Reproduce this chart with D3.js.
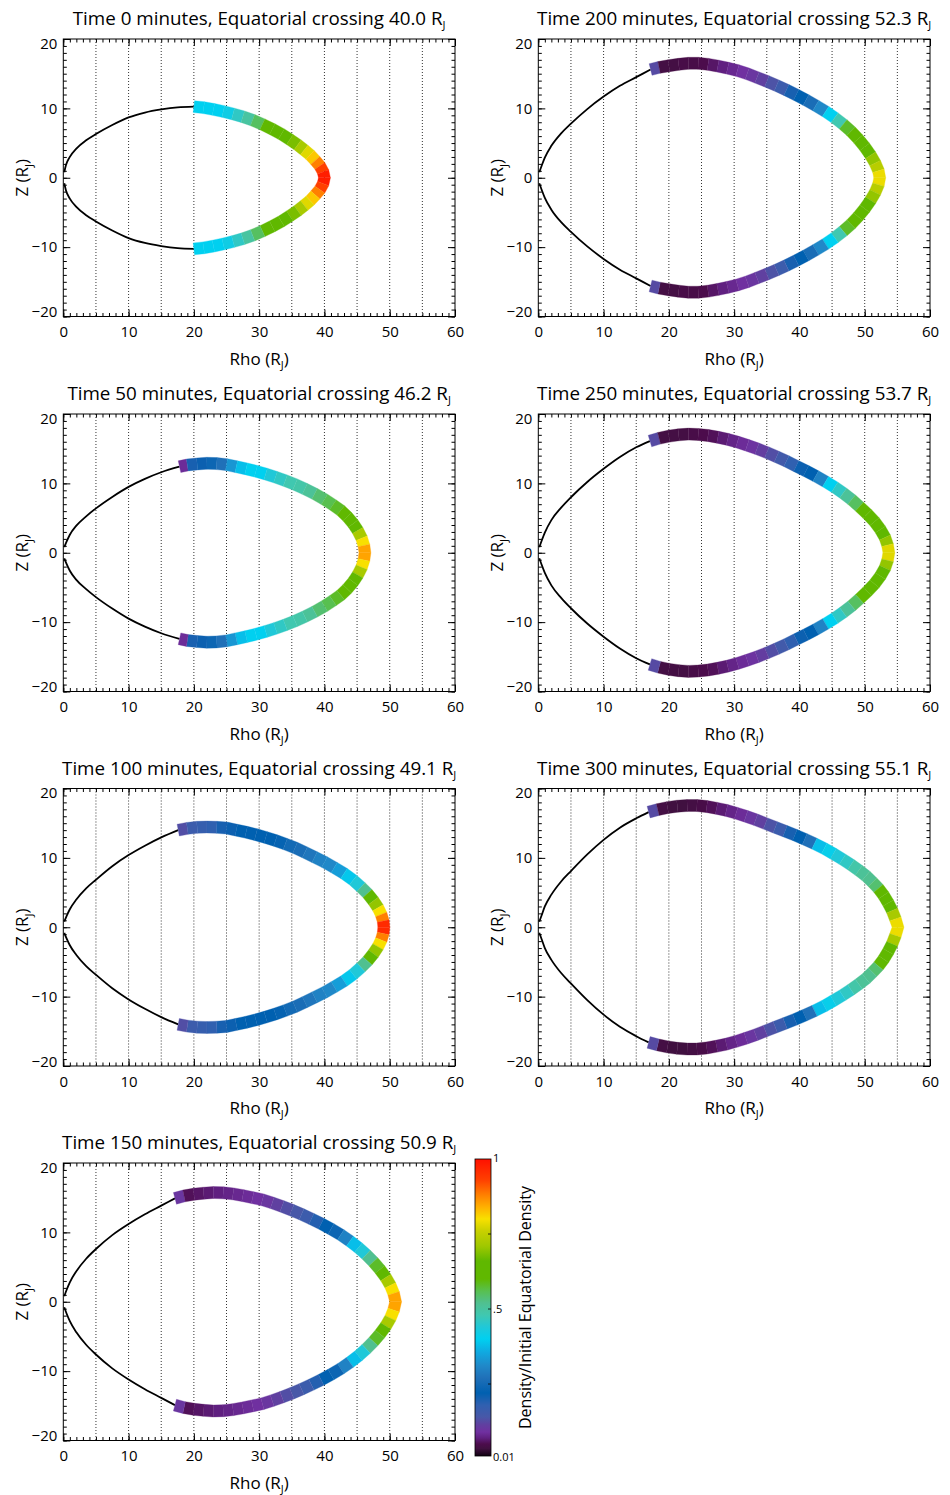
<!DOCTYPE html>
<html>
<head>
<meta charset="utf-8">
<script src="https://cdn.jsdelivr.net/npm/d3@7"></script>
<style>
  body { margin: 0; background: #ffffff; }
  svg text { font-family: "Open Sans", "Noto Sans", sans-serif; fill: #000; }
</style>
</head>
<body>
<svg id="chart" width="950" height="1495"></svg>
<script>
// ---------------- DATA ----------------
const times = [0, 50, 100, 150, 200, 250, 300];
const crossings = ["40.0", "46.2", "49.1", "50.9", "52.3", "53.7", "55.1"];
const xTickValues = [0, 10, 20, 30, 40, 50, 60];
const yTickValues = [-20, -10, 0, 10, 20];
const gridValues = [5, 10, 15, 20, 25, 30, 35, 40, 45, 50, 55];
const cbTickValues = [0.01, 0.5, 1];
const cbTickLabels = ["0.01", ".5", "1"];
const cbMarkValues = [0.25, 0.5, 0.75];

// colour table (density -> colour)
const cmapValues = [0.01, 0.035, 0.05, 0.07, 0.09, 0.115, 0.14, 0.18, 0.22, 0.27, 0.31, 0.355, 0.40, 0.44, 0.48, 0.52, 0.56, 0.60, 0.66, 0.71, 0.76, 0.80, 0.84, 0.88, 0.93, 1.0];
const cmapColors = ["#100010", "#401040", "#4c0c4c", "#602080", "#7030a0", "#6040a0", "#4858a8", "#3060b0", "#0060b0", "#2070b8", "#2088c8", "#10a8e0", "#00d0f0", "#20c8d8", "#40c8b0", "#50c090", "#58c050", "#60b800", "#60b800", "#a0c800", "#c8d000", "#f8e000", "#ffb000", "#ff8000", "#ff4000", "#ff1000"];

// inner (black) field line, upper half: [rho, z]
const inner_t0   = [[0.15,0.8],[0.4,1.8],[1.0,3.0],[2.0,4.2],[3.5,5.4],[5.0,6.3],[7.5,7.6],[10.0,8.7],[12.5,9.4],[15.0,9.85],[17.5,10.15],[20.0,10.25]];
const inner_t50  = [[0.15,0.8],[0.5,1.6],[1.0,2.6],[2.0,3.9],[3.5,5.25],[5.0,6.4],[7.5,8.05],[10.0,9.5],[12.5,10.65],[15.0,11.6],[17.8,12.4]];
const inner_t100 = [[0.15,0.8],[0.5,1.6],[1.0,2.6],[2.0,4.0],[3.5,5.6],[5.0,6.85],[7.5,8.8],[10.0,10.4],[12.5,11.75],[15.0,12.95],[17.6,14.0]];
const inner_t150 = [[0.15,0.8],[0.5,1.7],[1.0,2.8],[2.0,4.4],[3.5,6.2],[5.0,7.6],[7.5,9.6],[10.0,11.2],[12.5,12.6],[15.0,13.85],[17.1,14.9]];
const inner_t200 = [[0.15,0.8],[0.5,1.7],[1.0,2.9],[2.0,4.6],[3.5,6.4],[5.0,7.8],[7.5,9.9],[10.0,11.7],[12.5,13.25],[15.0,14.5],[17.2,15.6]];
const inner_t250 = [[0.15,0.8],[0.5,1.7],[1.0,2.9],[2.0,4.7],[3.5,6.5],[5.0,8.0],[7.5,10.2],[10.0,12.1],[12.5,13.8],[15.0,15.2],[17.1,16.1]];
const inner_t300 = [[0.15,0.8],[0.5,1.7],[1.0,3.0],[2.0,4.7],[3.5,6.6],[5.0,8.1],[7.5,10.5],[10.0,12.6],[12.5,14.35],[15.0,15.7],[16.9,16.6]];

// outer (coloured) part of the field line, upper half, from its start to the equator: [rho, z]
const band_t0   = [[20.0,10.25],[21.5,10.1],[23.0,9.85],[24.5,9.55],[26.0,9.2],[27.5,8.8],[29.0,8.3],[30.5,7.7],[32.0,7.0],[33.4,6.3],[34.7,5.5],[35.9,4.75],[36.9,4.0],[37.8,3.3],[38.6,2.5],[39.3,1.7],[39.8,0.85],[40.0,0]];
const band_t50  = [[17.8,12.4],[19.0,12.65],[20.5,12.8],[22.0,12.9],[23.5,12.85],[25.0,12.7],[26.5,12.4],[28.0,12.1],[29.5,11.75],[31.0,11.35],[32.5,10.9],[34.0,10.4],[35.5,9.85],[37.0,9.2],[38.5,8.5],[40.0,7.7],[41.3,6.9],[42.5,6.1],[43.5,5.2],[44.4,4.2],[45.1,3.2],[45.7,2.1],[46.05,1.05],[46.2,0]];
const band_t100 = [[17.6,14.0],[19.0,14.25],[20.5,14.4],[22.0,14.45],[23.5,14.4],[25.0,14.3],[26.5,14.0],[28.0,13.7],[29.5,13.35],[31.0,12.95],[32.5,12.5],[34.0,12.0],[35.5,11.45],[37.0,10.8],[38.5,10.1],[40.0,9.4],[41.5,8.6],[43.0,7.75],[44.4,6.8],[45.6,5.8],[46.6,4.85],[47.5,3.8],[48.2,2.8],[48.7,1.85],[49.0,0.9],[49.1,0]];
const band_t150 = [[17.1,14.9],[18.5,15.25],[20.0,15.5],[21.5,15.65],[23.0,15.75],[24.5,15.7],[26.0,15.55],[27.5,15.3],[29.0,15.0],[30.5,14.7],[32.0,14.25],[33.5,13.75],[35.0,13.2],[36.5,12.6],[38.0,11.95],[39.5,11.25],[41.0,10.5],[42.5,9.65],[43.9,8.75],[45.2,7.8],[46.4,6.8],[47.5,5.75],[48.5,4.65],[49.4,3.5],[50.1,2.35],[50.6,1.2],[50.9,0]];
const band_t200 = [[17.2,15.6],[18.5,15.9],[20.0,16.15],[21.5,16.35],[23.0,16.5],[24.5,16.5],[26.0,16.35],[27.5,16.1],[29.0,15.8],[30.5,15.45],[32.0,15.0],[33.5,14.45],[35.0,13.9],[36.5,13.3],[38.0,12.65],[39.5,11.95],[41.0,11.2],[42.5,10.4],[44.0,9.55],[45.4,8.65],[46.7,7.7],[47.9,6.7],[49.0,5.6],[50.0,4.45],[50.9,3.25],[51.6,2.1],[52.1,1.0],[52.3,0]];
const band_t250 = [[17.1,16.1],[18.5,16.5],[20.0,16.8],[21.5,17.0],[23.0,17.1],[24.5,17.05],[26.0,16.9],[27.5,16.65],[29.0,16.35],[30.5,15.95],[32.0,15.5],[33.5,15.0],[35.0,14.45],[36.5,13.85],[38.0,13.2],[39.5,12.5],[41.0,11.8],[42.5,11.05],[44.0,10.25],[45.4,9.45],[46.7,8.6],[48.0,7.65],[49.2,6.65],[50.4,5.6],[51.5,4.5],[52.4,3.35],[53.1,2.2],[53.5,1.1],[53.7,0]];
const band_t300 = [[16.9,16.6],[18.3,16.95],[19.8,17.25],[21.3,17.45],[22.8,17.55],[24.3,17.55],[25.8,17.4],[27.3,17.15],[28.8,16.85],[30.3,16.45],[31.8,16.0],[33.3,15.5],[34.8,14.95],[36.3,14.4],[37.8,13.85],[39.3,13.3],[40.8,12.7],[42.3,12.05],[43.8,11.35],[45.2,10.6],[46.6,9.8],[47.9,9.0],[49.1,8.2],[50.2,7.4],[51.2,6.5],[52.1,5.6],[52.9,4.6],[53.6,3.5],[54.2,2.4],[54.7,1.2],[55.1,0]];

// density / initial equatorial density for each segment of the coloured part (start -> equator)
const dens_t0   = [0.40,0.40,0.40,0.42,0.46,0.50,0.55,0.62,0.63,0.64,0.68,0.72,0.78,0.82,0.88,0.93,0.98];
const dens_t50  = [0.085,0.20,0.21,0.24,0.27,0.33,0.38,0.40,0.40,0.44,0.46,0.48,0.49,0.51,0.54,0.56,0.58,0.62,0.63,0.66,0.72,0.80,0.85];
const dens_t100 = [0.13,0.16,0.17,0.18,0.20,0.21,0.22,0.22,0.22,0.22,0.23,0.25,0.26,0.28,0.30,0.31,0.34,0.39,0.44,0.52,0.62,0.70,0.80,0.88,0.96];
const dens_t150 = [0.10,0.055,0.06,0.065,0.07,0.075,0.08,0.085,0.09,0.10,0.115,0.13,0.14,0.16,0.19,0.22,0.24,0.30,0.38,0.44,0.52,0.58,0.63,0.72,0.80,0.85];
const dens_t200 = [0.125,0.04,0.04,0.045,0.045,0.05,0.06,0.07,0.08,0.09,0.10,0.115,0.135,0.16,0.20,0.22,0.26,0.31,0.40,0.48,0.58,0.62,0.63,0.66,0.70,0.74,0.79];
const dens_t250 = [0.125,0.04,0.04,0.04,0.045,0.05,0.055,0.065,0.075,0.085,0.095,0.11,0.13,0.15,0.18,0.21,0.22,0.30,0.40,0.46,0.51,0.55,0.60,0.62,0.63,0.65,0.70,0.78];
const dens_t300 = [0.125,0.04,0.035,0.035,0.04,0.045,0.055,0.065,0.075,0.085,0.10,0.115,0.135,0.16,0.20,0.22,0.27,0.38,0.41,0.44,0.46,0.49,0.51,0.52,0.54,0.61,0.63,0.66,0.72,0.79];

// ---------------- LAYOUT ----------------
const svg = d3.select("#chart");
const colX = [63.3, 538.3];
const rowY = [39, 414, 788.5, 1163];
const plotW = 391.7, plotH = 277.5;

const panels = [
  {t: times[0], c: crossings[0], inner: inner_t0,   band: band_t0,   dens: dens_t0,   col: 0, row: 0},
  {t: times[1], c: crossings[1], inner: inner_t50,  band: band_t50,  dens: dens_t50,  col: 0, row: 1},
  {t: times[2], c: crossings[2], inner: inner_t100, band: band_t100, dens: dens_t100, col: 0, row: 2},
  {t: times[3], c: crossings[3], inner: inner_t150, band: band_t150, dens: dens_t150, col: 0, row: 3},
  {t: times[4], c: crossings[4], inner: inner_t200, band: band_t200, dens: dens_t200, col: 1, row: 0},
  {t: times[5], c: crossings[5], inner: inner_t250, band: band_t250, dens: dens_t250, col: 1, row: 1},
  {t: times[6], c: crossings[6], inner: inner_t300, band: band_t300, dens: dens_t300, col: 1, row: 2}
];

const color = d3.scaleLinear().domain(cmapValues).range(cmapColors).interpolate(d3.interpolateRgb).clamp(true);

function subLabel(sel, main, sub, tail, subSize) {
  sel.append("tspan").text(main);
  sel.append("tspan").attr("font-size", subSize).attr("dy", subSize * 0.4).text(sub);
  if (tail) sel.append("tspan").attr("dy", -subSize * 0.4).text(tail);
}

panels.forEach(p => {
  const x0 = colX[p.col], y0 = rowY[p.row];
  const x = d3.scaleLinear().domain([0, 60]).range([x0, x0 + plotW]);
  const y = d3.scaleLinear().domain([-20, 20]).range([y0 + plotH, y0]);
  const g = svg.append("g");

  // dotted grid
  g.selectAll("line.grid").data(gridValues).join("line")
    .attr("x1", d => x(d)).attr("x2", d => x(d))
    .attr("y1", y0).attr("y2", y0 + plotH)
    .attr("stroke", "#333").attr("stroke-width", 1).attr("stroke-dasharray", "1,2");

  // axes: minor ticks
  const minorX = d3.range(0, 61, 1), minorY = d3.range(-20, 21, 1);
  const axes = [
    [d3.axisBottom(x).tickValues(minorX).tickFormat("").tickSizeInner(-3.5).tickSizeOuter(0), `translate(0,${y0 + plotH})`],
    [d3.axisTop(x).tickValues(minorX).tickFormat("").tickSizeInner(-3.5).tickSizeOuter(0), `translate(0,${y0})`],
    [d3.axisLeft(y).tickValues(minorY).tickFormat("").tickSizeInner(-3.5).tickSizeOuter(0), `translate(${x0},0)`],
    [d3.axisRight(y).tickValues(minorY).tickFormat("").tickSizeInner(-3.5).tickSizeOuter(0), `translate(${x0 + plotW},0)`],
    [d3.axisTop(x).tickValues(xTickValues).tickFormat("").tickSizeInner(-7).tickSizeOuter(0), `translate(0,${y0})`],
    [d3.axisRight(y).tickValues(yTickValues).tickFormat("").tickSizeInner(-7).tickSizeOuter(0), `translate(${x0 + plotW},0)`]
  ];
  axes.forEach(([ax, tr]) => {
    const a = g.append("g").attr("transform", tr).call(ax);
    a.select(".domain").remove();
    a.selectAll("line").attr("stroke", "#000");
  });

  // major bottom axis with labels
  const xb = g.append("g").attr("transform", `translate(0,${y0 + plotH})`)
    .call(d3.axisBottom(x).tickValues(xTickValues).tickFormat(d3.format("d")).tickSizeInner(-7).tickSizeOuter(0).tickPadding(10));
  xb.select(".domain").remove();
  xb.selectAll("line").attr("stroke", "#000");
  xb.selectAll("text").attr("font-size", 15).attr("font-family", '"Open Sans", sans-serif').attr("fill", "#000");

  // major left axis with labels
  const yl = g.append("g").attr("transform", `translate(${x0},0)`)
    .call(d3.axisLeft(y).tickValues(yTickValues).tickFormat(d3.format("d")).tickSizeInner(-7).tickSizeOuter(0).tickPadding(6));
  yl.select(".domain").remove();
  yl.selectAll("line").attr("stroke", "#000");
  yl.selectAll("text").attr("font-size", 15).attr("font-family", '"Open Sans", sans-serif').attr("fill", "#000")
    .attr("dy", d => d === 20 ? "0.62em" : d === -20 ? "0.0em" : "0.32em");

  // frame
  g.append("rect").attr("x", x0).attr("y", y0).attr("width", plotW).attr("height", plotH)
    .attr("fill", "none").attr("stroke", "#000").attr("stroke-width", 1);

  // inner black line (upper and mirrored lower)
  const line = d3.line().x(d => x(d[0])).y(d => y(d[1])).curve(d3.curveMonotoneX);
  g.append("path").attr("d", line(p.inner)).attr("fill", "none").attr("stroke", "#000").attr("stroke-width", 1.8);
  g.append("path").attr("d", line(p.inner.map(d => [d[0], -d[1]]))).attr("fill", "none").attr("stroke", "#000").attr("stroke-width", 1.8);

  // coloured band
  const up = p.band.map(d => [x(d[0]), y(d[1])]);
  const low = p.band.slice(0, -1).reverse().map(d => [x(d[0]), y(-d[1])]);
  const pts = up.concat(low);
  const segD = p.dens.concat(p.dens.slice().reverse());
  const normals = pts.map((pt, i) => {
    const a = pts[Math.max(i - 1, 0)], b = pts[Math.min(i + 1, pts.length - 1)];
    const tx = b[0] - a[0], ty = b[1] - a[1], L = Math.hypot(tx, ty);
    return [-ty / L, tx / L];
  });
  const hw = 6;
  segD.forEach((dv, i) => {
    const a = pts[i], b = pts[i + 1], na = normals[i], nb = normals[i + 1];
    const poly = [
      [a[0] + na[0] * hw, a[1] + na[1] * hw],
      [b[0] + nb[0] * hw, b[1] + nb[1] * hw],
      [b[0] - nb[0] * hw, b[1] - nb[1] * hw],
      [a[0] - na[0] * hw, a[1] - na[1] * hw]
    ];
    g.append("path").attr("d", "M" + poly.map(q => q.join(",")).join("L") + "Z")
      .attr("fill", color(dv)).attr("stroke", color(dv)).attr("stroke-width", 0.3);
  });

  // title
  const tt = g.append("text").attr("x", x0 + plotW / 2).attr("y", y0 - 14)
    .attr("text-anchor", "middle").attr("font-size", 18.8);
  subLabel(tt, `Time ${p.t} minutes, Equatorial crossing ${p.c} R`, "J", null, 11);

  // x label
  const xt = g.append("text").attr("x", x0 + plotW / 2).attr("y", y0 + plotH + 48)
    .attr("text-anchor", "middle").attr("font-size", 17);
  subLabel(xt, "Rho (R", "J", ")", 11);

  // y label
  const yt = g.append("text").attr("transform", `translate(${x0 - 35},${y0 + plotH / 2}) rotate(-90)`)
    .attr("text-anchor", "middle").attr("font-size", 17);
  subLabel(yt, "Z (R", "J", ")", 11);
});

// ---------------- COLOUR BAR ----------------
const cbX = 475, cbW = 16, cbTop = 1159, cbBot = 1456;
const cbScale = d3.scaleLinear().domain([0.01, 1]).range([cbBot, cbTop]);
const defs = svg.append("defs");
const grad = defs.append("linearGradient").attr("id", "cbgrad")
  .attr("gradientUnits", "userSpaceOnUse").attr("x1", 0).attr("x2", 0).attr("y1", cbBot).attr("y2", cbTop);
grad.selectAll("stop").data(cmapValues).join("stop")
  .attr("offset", d => (cbBot - cbScale(d)) / (cbBot - cbTop))
  .attr("stop-color", (d, i) => cmapColors[i]);
svg.append("rect").attr("x", cbX).attr("y", cbTop).attr("width", cbW).attr("height", cbBot - cbTop)
  .attr("fill", "url(#cbgrad)").attr("stroke", "#000").attr("stroke-width", 0.8);
svg.selectAll("line.cbmark").data(cbMarkValues).join("line")
  .attr("x1", cbX + cbW - 3).attr("x2", cbX + cbW).attr("y1", d => cbScale(d)).attr("y2", d => cbScale(d))
  .attr("stroke", "#000").attr("stroke-width", 0.8);
svg.selectAll("text.cbt").data(cbTickValues).join("text")
  .attr("x", cbX + cbW + 2).attr("y", d => cbScale(d))
  .attr("dy", (d, i) => i === 0 ? "0.45em" : i === 2 ? "0.3em" : "0.35em")
  .attr("font-size", 11).text((d, i) => cbTickLabels[i]);
svg.append("text").attr("transform", `translate(531,${(cbTop + cbBot) / 2}) rotate(-90)`)
  .attr("text-anchor", "middle").attr("font-size", 16).text("Density/Initial Equatorial Density");
</script>
</body>
</html>
